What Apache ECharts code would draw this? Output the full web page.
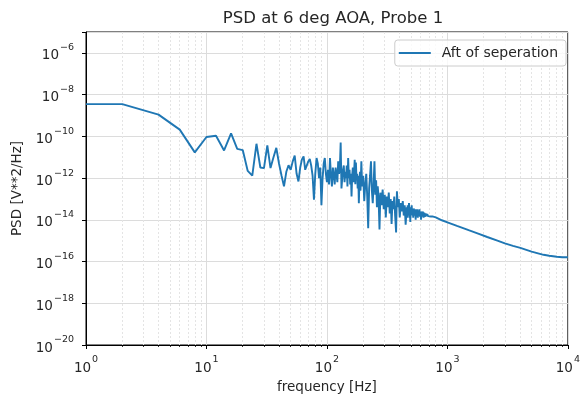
<!DOCTYPE html>
<html>
<head>
<meta charset="utf-8">
<script src="https://cdn.jsdelivr.net/npm/echarts@6/dist/echarts.min.js"></script>
<style>
html,body{margin:0;padding:0;background:#fff;}
#chart{width:583px;height:399px;}
</style>
</head>
<body>
<div id="chart"></div>
<script>
const titleText = 'PSD at 6 deg AOA, Probe 1';
const seriesName = 'Aft of seperation';
const xAxisName = 'frequency [Hz]';
const yAxisName = 'PSD [V**2/Hz]';

const freq = [1, 2, 4, 6, 8, 10, 12, 14, 16, 18, 20, 22, 24, 26, 28, 30, 32, 34, 36, 38, 40, 42, 44, 46, 48, 50, 52, 54, 56, 58, 60, 62, 64, 66, 68, 70, 72, 74, 76, 78, 80, 82, 84, 86, 88, 90, 92, 94, 96, 98, 100, 102, 104, 106, 108, 110, 112, 114, 116, 118, 120, 122, 124, 126, 128, 130, 132, 134, 136, 138, 140, 142, 144, 146, 148, 150, 152, 154, 156, 158, 160, 162, 164, 166, 168, 170, 172, 174, 176, 178, 180, 182, 184, 186, 188, 190, 193, 196, 200, 204, 208, 212, 216, 220, 224, 228, 232, 236, 240, 244, 248, 252, 256, 260, 264, 268, 273, 278, 284, 290, 296, 302, 308, 314, 320, 326, 332, 338, 344, 350, 356, 362, 368, 375, 381, 388, 395, 402, 410, 418, 426, 434, 442,
  450, 460, 464, 468, 472, 476, 480, 484, 488, 492, 496, 500, 505, 510, 515, 520, 525, 530, 535, 540, 545, 550, 556, 562, 568, 574, 580, 586, 592, 598, 604, 610, 618, 626, 634, 642, 650, 660, 670, 680, 690, 700, 720, 750,
  800, 900, 1000, 1200, 1500, 1800, 2140, 2600, 3000, 3500, 4030, 5000, 6280, 7000, 8100, 9000, 10000];

const psd = [3.5e-9, 3.5e-9, 1.1e-9, 2.1e-10, 1.7e-11, 9.3e-11, 1.07e-10, 2.1e-11, 1.38e-10, 2.5e-11, 2.2e-11, 2.2e-12, 1.3e-12, 4.4e-11, 3.2e-12, 3.0e-12, 3.7e-11, 3.0e-12, 1.0e-11, 2.8e-11, 5.0e-12, 1.3e-12, 4.0e-13, 2.0e-12, 4.1e-12, 2.5e-12, 6.3e-12, 1.2e-11, 1.6e-12, 6.9e-13, 3.2e-12, 7.9e-12, 1.1e-11, 2.5e-12, 2.5e-12, 6.3e-12, 8.3e-12, 4.0e-12, 1.3e-12, 9.1e-14, 1.6e-12, 9.1e-12, 5.0e-12, 1.0e-12, 3.2e-12, 5.0e-14, 1.0e-12, 5.0e-12, 9.1e-12, 1.6e-12, 6.3e-13, 2.5e-12, 5.0e-13, 9.1e-12, 1.3e-12, 4.0e-13, 3.2e-12, 1.4e-12, 5.0e-13, 3.2e-12, 1.6e-12, 6.3e-13, 6.3e-12, 1.6e-12, 3.2e-12, 5.0e-11, 3.2e-13, 1.0e-12, 2.5e-12, 4.0e-12, 6.3e-13, 2.0e-12, 1.0e-12, 4.0e-12, 4.0e-13, 9.1e-12, 1.0e-12, 2.5e-12, 5.0e-13, 1.6e-12, 1.3e-13, 1.3e-12, 3.2e-12, 6.3e-13, 2.0e-12, 7.6e-12, 5.0e-13, 5.5e-12, 7.9e-13, 1.6e-12, 3.2e-13, 1.3e-12, 6.3e-14, 6.3e-13, 2.0e-12, 2.5e-13, 6.3e-12, 4.0e-13, 1.3e-12, 7.9e-14, 5.0e-13, 1.6e-12, 1.3e-13, 4.0e-15, 3.2e-13, 1.3e-12, 6.3e-12, 2.5e-13, 6.3e-14, 5.0e-13, 6.3e-12, 1.6e-13, 7.9e-13, 4.0e-14, 4.0e-13, 1.3e-13, 3.4e-15, 2.0e-13, 5.0e-14, 2.8e-13, 3.2e-14, 1.6e-13, 1.3e-14, 1.3e-13, 4.0e-14, 2.0e-13, 2.0e-14, 1.0e-13, 6.3e-15, 7.9e-14, 3.2e-14, 1.3e-13, 1.6e-14, 2.5e-15, 2.3e-13, 4.0e-14, 1.0e-13, 1.3e-14, 6.3e-14, 2.5e-14, 7.9e-14, 1.6e-14, 5.0e-14,
  5.8e-15, 4.0e-14, 1.26e-14, 5.0e-14, 1.6e-14, 3.2e-14, 6.3e-14, 1.26e-14, 2.5e-14, 7.9e-15, 4.0e-14, 2.0e-14, 5.0e-14, 1.6e-14, 3.2e-14, 1.26e-14, 3.5e-14, 4.0e-14, 1.6e-14, 3.2e-14, 1.0e-14, 3.2e-14, 1.8e-14, 3.2e-14, 1.26e-14, 2.8e-14, 1.6e-14, 3.2e-14, 1.4e-14, 2.5e-14, 1.0e-14, 2.5e-14, 1.4e-14, 2.5e-14, 1.26e-14, 2.2e-14, 1.4e-14, 2.0e-14, 1.5e-14, 1.9e-14, 1.5e-14, 1.7e-14, 1.45e-14, 1.45e-14,
  1.3e-14, 9.5e-15, 7.6e-15, 5.1e-15, 3.2e-15, 2.2e-15, 1.5e-15, 1.0e-15, 7.4e-16, 5.6e-16, 4.5e-16, 3.0e-16, 2.1e-16, 1.9e-16, 1.7e-16, 1.6e-16, 1.6e-16];

const xMinorTicks = [2,3,4,5,6,7,8,9,20,30,40,50,60,70,80,90,200,300,400,500,600,700,800,900,2000,3000,4000,5000,6000,7000,8000,9000];
const xRange = [1, 10000];
const yRange = [1e-20, 1e-5];
const yLabelStep = 2;

const FONT = 'DejaVu Sans';
const TXT = '#262626';

function powLabel(v, step) {
  const l = Math.log10(v);
  const e = Math.round(l);
  if (Math.abs(l - e) > 1e-6 || e % step !== 0) return '';
  return '{b|10}{e|' + String(e).replace('-', '\u2212') + '}';
}
const rich = {
  b: {fontFamily: FONT, fontSize: 13.5, color: TXT, lineHeight: 20, verticalAlign: 'bottom'},
  e: {fontFamily: FONT, fontSize: 9.5, color: TXT, lineHeight: 20, verticalAlign: 'top', padding: [0, 0, 0, 1]}
};

const data = freq.map((f, i) => [f, psd[i]]);

const chart = echarts.init(document.getElementById('chart'), null, {renderer: 'canvas'});
chart.setOption({
  animation: false,
  backgroundColor: '#fff',
  title: {
    text: titleText, left: 328, top: 5, textAlign: 'center',
    textStyle: {fontFamily: FONT, fontSize: 16.5, fontWeight: 'normal', color: TXT}
  },
  legend: {
    data: [{name: seriesName, icon: 'rect'}], right: 17, top: 40, orient: 'vertical',
    backgroundColor: 'rgba(255,255,255,0.8)', borderColor: '#cccccc', borderWidth: 1, borderRadius: 3,
    padding: [5, 8, 5, 4], itemWidth: 32, itemHeight: 2, itemGap: 4,
    textStyle: {fontFamily: FONT, fontSize: 14, color: TXT, padding: [0, 0, 0, 6], lineHeight: 16}
  },
  grid: {left: 86, right: 12, top: 32, bottom: 53, show: true, borderColor: '#000', borderWidth: 1, backgroundColor: 'transparent'},
  xAxis: [{
    type: 'log', logBase: 10, min: xRange[0], max: xRange[1],
    name: xAxisName, nameLocation: 'middle', nameGap: 35,
    nameTextStyle: {fontFamily: FONT, fontSize: 13.5, color: TXT},
    axisLine: {show: true, onZero: false, lineStyle: {color: '#000', width: 1}},
    axisTick: {show: true, length: 4, lineStyle: {color: '#000', width: 1}},
    axisLabel: {margin: 10, formatter: v => powLabel(v, 1), rich: rich},
    splitLine: {show: true, lineStyle: {color: '#dcdcdc', width: 1}},
    minorTick: {show: false}
  }, {
    type: 'log', logBase: 10, min: xRange[0], max: xRange[1], position: 'bottom', offset: 0,
    axisLine: {show: false},
    axisTick: {show: true, length: 2, customValues: xMinorTicks, lineStyle: {color: '#000', width: 0.8}},
    axisLabel: {show: false},
    splitLine: {show: true, lineStyle: {color: '#e4e4e4', width: 1, type: [2, 2]}}
  }],
  yAxis: {
    type: 'log', logBase: 100, min: yRange[0], max: yRange[1],
    name: yAxisName, nameLocation: 'middle', nameGap: 57, nameRotate: 90,
    nameTextStyle: {fontFamily: FONT, fontSize: 13.5, color: TXT},
    axisLine: {show: true, onZero: false, lineStyle: {color: '#000', width: 1}},
    axisTick: {show: true, length: 4, lineStyle: {color: '#000', width: 1}},
    axisLabel: {margin: 12, formatter: v => powLabel(v, yLabelStep), rich: rich},
    splitLine: {show: true, lineStyle: {color: '#dcdcdc', width: 1}}
  },
  series: [{
    name: seriesName, type: 'line', data: data, xAxisIndex: 0,
    symbol: 'none', showSymbol: false,
    lineStyle: {color: '#1f77b4', width: 1.9}, itemStyle: {color: '#1f77b4'}
  }]
});
</script>
</body>
</html>
